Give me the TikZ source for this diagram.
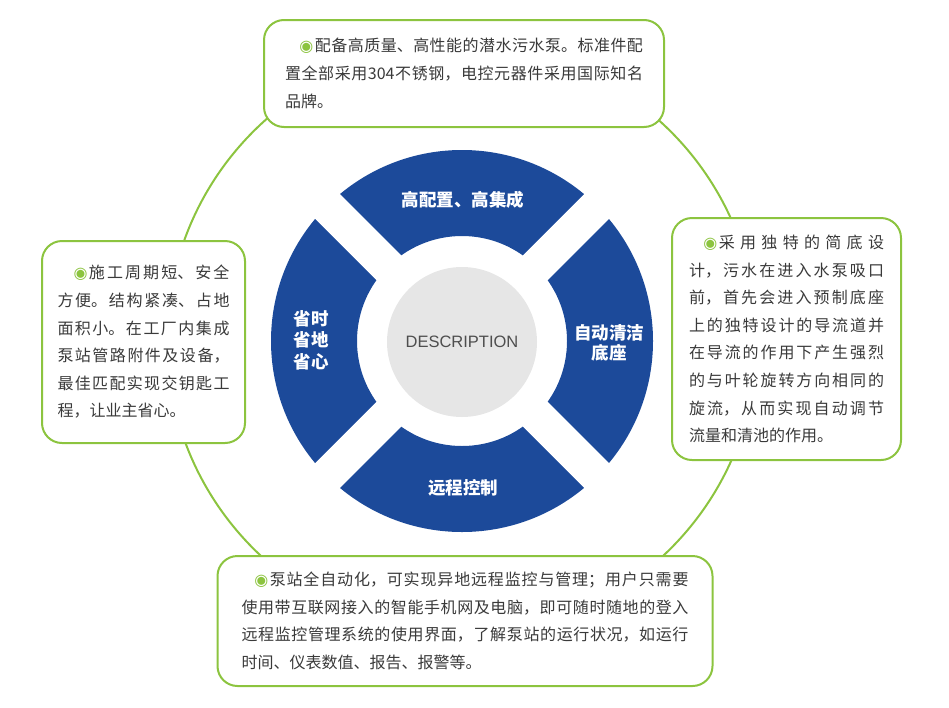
\documentclass[tikz,border=0pt]{standalone}
\usepackage{fontspec}
\setmainfont{Noto Sans CJK SC}
\newfontfamily\latinfont{Liberation Sans}
\newfontfamily\dejavu{DejaVu Sans}
\usepackage{tikz}
\usetikzlibrary{calc, positioning}
\definecolor{leafgreen}{HTML}{8CC43F}
\definecolor{ringblue}{HTML}{1C4A9A}
\definecolor{centergray}{HTML}{E6E6E6}
\definecolor{bodytext}{HTML}{3A3A3A}
\XeTeXlinebreaklocale "zh"
\XeTeXlinebreakskip=0pt plus 4pt
\newcommand{\greendot}{{\dejavu\color{leafgreen}\fontsize{16pt}{16pt}\selectfont ◉}\hspace{1.5pt}}
\tikzset{
	infobox/.style={
			shape=rectangle,
			rounded corners=20pt,
			draw=leafgreen,
			line width=2pt,
			fill=white,
			inner xsep=0pt,
			inner ysep=0pt,
			align=justify,
			text=bodytext,
			font=\fontsize{16pt}{27.6pt}\selectfont
		},
	sectorlabel/.style={
			align=center,
			text=white,
			inner sep=0pt,
			font=\fontsize{17.5pt}{21.5pt}\selectfont\bfseries
		}
}
\tikzset{
	hubtext/.style={font=\latinfont\fontsize{16.5pt}{18pt}\selectfont, text=bodytext!90}
}
\begin{document}
\begin{tikzpicture}[x=1pt, y=-1pt]
				\useasboundingbox (0,0) rectangle (949,707);

				\coordinate (hub) at (462,341);

				% outer green ring behind the boxes
				\draw[leafgreen, line width=2pt] (462,340) circle (295);

				% blue ring cut in four
				\fill[ringblue, even odd rule] (hub) circle (191) circle (105);
				\draw[white, line width=35pt] ($(hub)+(-135:200)$) -- ($(hub)+(45:200)$);
				\draw[white, line width=35pt] ($(hub)+(135:200)$) -- ($(hub)+(-45:200)$);
				\fill[centergray] (462,342) circle (75);

				\node[hubtext] (desc) at (462,342) {DESCRIPTION};

				\node[sectorlabel] (up)    at (463,200) {高配置、高集成};
				\node[sectorlabel] (left)  at (311,340) {省时\\省地\\省心};
				\node[sectorlabel, font=\fontsize{17.5pt}{20pt}\selectfont\bfseries] (right) at (609,343) {自动清洁\\底座};
				\node[sectorlabel] (down)  at (463,488) {远程控制};

				\node[infobox, text width=358pt, minimum width=400pt, minimum height=107pt] (topbox) at (464,73.5)
					{\hspace*{0.9em}\greendot 配备高质量、高性能的潜水污水泵。标准件配\linebreak
					置全部采用304不锈钢，电控元器件采用国际知名\linebreak
					品牌。};

				\node[infobox, text width=172pt, minimum width=203pt, minimum height=202pt] (leftbox) at (143.5,342)
					{\hspace*{1em}\greendot 施工周期短、安全\linebreak
					方便。结构紧凑、占地\linebreak
					面积小。在工厂内集成\linebreak
					泵站管路附件及设备，\linebreak
					最佳匹配实现交钥匙工\linebreak
					程，让业主省心。};

				\node[infobox, text width=195pt, minimum width=229pt, minimum height=242pt] (rightbox) at (786.5,339)
					{\hspace*{0.9em}\greendot 采用独特的简底设\linebreak
					计，污水在进入水泵吸口\linebreak
					前，首先会进入预制底座\linebreak
					上的独特设计的导流道并\linebreak
					在导流的作用下产生强烈\linebreak
					的与叶轮旋转方向相同的\linebreak
					旋流，从而实现自动调节\linebreak
					流量和清池的作用。};

				\node[infobox, text width=447pt, minimum width=495pt, minimum height=130pt] (bottombox) at (465,621)
					{\hspace*{0.8em}\greendot 泵站全自动化，可实现异地远程监控与管理；用户只需要\linebreak
					使用带互联网接入的智能手机网及电脑，即可随时随地的登入\linebreak
					远程监控管理系统的使用界面，了解泵站的运行状况，如运行\linebreak
					时间、仪表数值、报告、报警等。};

			\end{tikzpicture}
\end{document}
